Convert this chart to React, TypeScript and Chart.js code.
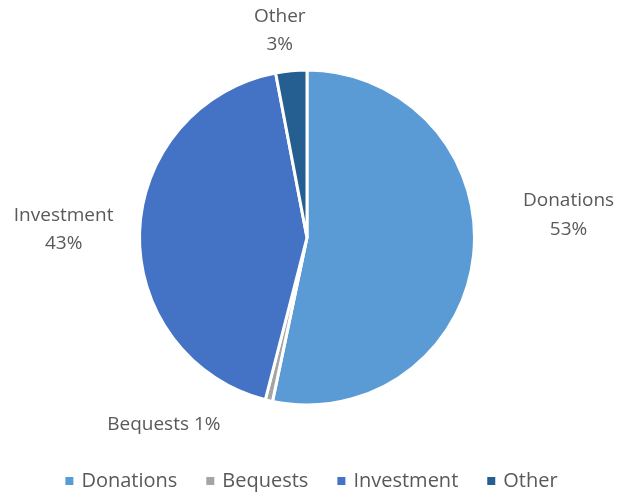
import React, { useEffect, useRef } from "react";
import { Chart, registerables } from "chart.js";

Chart.register(...registerables);

const categories = ["Donations", "Bequests", "Investment", "Other"];
const values = [53.3, 0.7, 43, 3];
const percentLabels = ["53%", "1%", "43%", "3%"];
const colors = ["#5B9BD5", "#A5A5A5", "#4472C4", "#255E91"];

// label placement styles (distance beyond the pie edge, angle shift in degrees, single-line?)
const labelExtra = [95, 68, 76, 41];
const labelShift = [-10.8, 24.3, 0, -2.1];
const labelInline = [false, true, false, false];

const FONT = "'Open Sans', sans-serif";
const TEXT = "#595959";

const labelPlugin = {
  id: "pieLabels",
  afterDraw(chart: any) {
    const ctx = chart.ctx;
    const meta = chart.getDatasetMeta(0);
    ctx.save();
    ctx.fillStyle = TEXT;
    ctx.font = `19px ${FONT}`;
    ctx.textAlign = "center";
    ctx.textBaseline = "middle";
    meta.data.forEach((arc: any, i: number) => {
      const p = arc.getProps(["x", "y", "startAngle", "endAngle", "outerRadius"], true);
      const mid = (p.startAngle + p.endAngle) / 2 + (labelShift[i] * Math.PI) / 180;
      const d = p.outerRadius + labelExtra[i];
      const cx = p.x + Math.cos(mid) * d;
      const cy = p.y + Math.sin(mid) * d;
      if (labelInline[i]) {
        ctx.fillText(`${categories[i]} ${percentLabels[i]}`, cx, cy);
      } else {
        ctx.fillText(categories[i], cx, cy - 14.5);
        ctx.fillText(percentLabels[i], cx, cy + 14);
      }
    });
    // legend
    ctx.font = `20px ${FONT}`;
    ctx.textAlign = "left";
    const box = 8;
    const gapBoxText = 8;
    const gapItems = 29;
    const widths = categories.map((c) => ctx.measureText(c).width);
    let total = 0;
    widths.forEach((w, i) => {
      total += box + gapBoxText + w + (i < widths.length - 1 ? gapItems : 0);
    });
    let x = (chart.width - total) / 2 + 3;
    const y = 481;
    categories.forEach((c, i) => {
      ctx.fillStyle = colors[i];
      ctx.fillRect(x, y - box / 2, box, box);
      x += box + gapBoxText;
      ctx.fillStyle = TEXT;
      ctx.fillText(c, x, y);
      x += widths[i] + gapItems;
    });
    ctx.restore();
  },
};

export default function App() {
  const ref = useRef<HTMLCanvasElement | null>(null);
  useEffect(() => {
    if (!ref.current) return;
    const chart = new Chart(ref.current, {
      type: "pie",
      data: {
        labels: categories,
        datasets: [
          {
            data: values,
            backgroundColor: colors,
            borderColor: "#ffffff",
            borderWidth: 3,
          },
        ],
      },
      options: {
        animation: false,
        responsive: false,
        layout: { padding: { top: 68, bottom: 90, left: 138, right: 141 } },
        plugins: {
          legend: { display: false },
          tooltip: { enabled: false },
        },
      },
      plugins: [labelPlugin],
    });
    return () => chart.destroy();
  }, []);
  return (
    <div style={{ position: "absolute", left: 0, top: 0, width: 617, height: 497, background: "#fff" }}>
      <canvas ref={ref} width={617} height={497} style={{ display: "block" }} />
    </div>
  );
}
